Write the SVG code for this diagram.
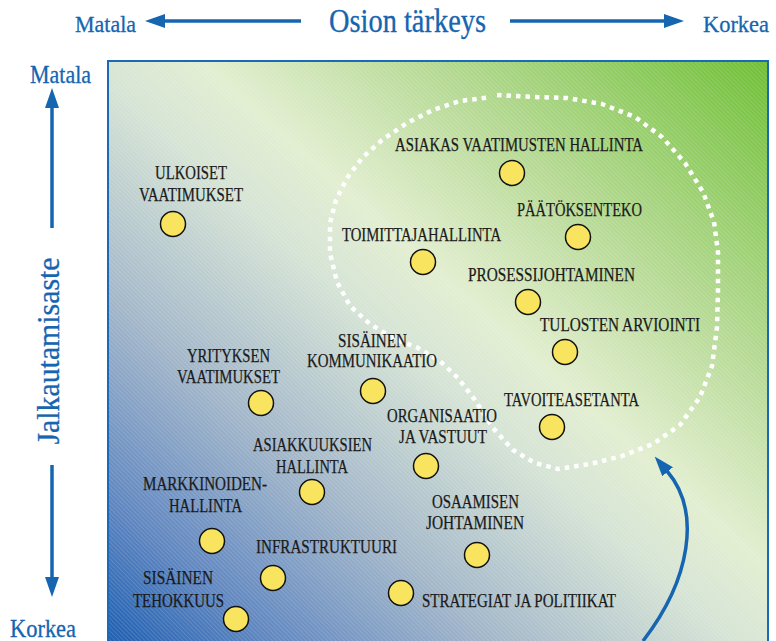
<svg xmlns="http://www.w3.org/2000/svg" width="776" height="641" viewBox="0 0 776 641">
  <defs>
    <linearGradient id="bg" x1="0" y1="1" x2="1" y2="0">
      <stop offset="0" stop-color="#1a5cb0"/>
      <stop offset="0.13" stop-color="#5f86c0"/>
      <stop offset="0.3" stop-color="#a2b6c9"/>
      <stop offset="0.48" stop-color="#d5e3d5"/>
      <stop offset="0.57" stop-color="#e2eed0"/>
      <stop offset="0.74" stop-color="#b5d993"/>
      <stop offset="1" stop-color="#6ebf34"/>
    </linearGradient>
    <pattern id="hatch" width="3" height="3" patternUnits="userSpaceOnUse" patternTransform="rotate(-45)">
      <line x1="0.5" y1="0" x2="0.5" y2="3" stroke="#ffffff" stroke-opacity="0.14" stroke-width="1"/>
    </pattern>
    <marker id="head" viewBox="0 0 20 14" markerWidth="20" markerHeight="14" refX="1" refY="7" orient="auto" markerUnits="userSpaceOnUse">
      <path d="M0,0 L20,7 L0,14 z" fill="#1565b0"/>
    </marker>
    <style>
      .axis { font-family: "Liberation Serif", "Times New Roman", serif; fill: #1565b0; stroke: #1565b0; stroke-width: 0.3; }
      .lbl { font-family: "Liberation Serif", "Times New Roman", serif; font-size: 19.5px; fill: #1a1a1a; stroke: #1a1a1a; stroke-width: 0.25; }
      .dot { fill: #f8e45e; stroke: #111111; stroke-width: 1.5; }
      .ax { stroke: #1565b0; stroke-width: 3.5; fill: none; marker-end: url(#head); }
    </style>
  </defs>

  <!-- panel -->
  <rect x="108" y="61" width="660" height="590" fill="url(#bg)"/>
  <rect x="108" y="61" width="660" height="590" fill="url(#hatch)"/>
  <rect x="108" y="61" width="660" height="590" fill="none" stroke="#1a6ab8" stroke-width="2"/>

  <!-- axes -->
  <g id="axes">
    <text class="axis" x="75" y="32" font-size="24" textLength="61" lengthAdjust="spacingAndGlyphs">Matala</text>
    <text class="axis" x="329" y="32" font-size="33" textLength="157" lengthAdjust="spacingAndGlyphs">Osion tärkeys</text>
    <text class="axis" x="703" y="32" font-size="24" textLength="66" lengthAdjust="spacingAndGlyphs">Korkea</text>
    <text class="axis" x="30" y="83" font-size="25" textLength="61" lengthAdjust="spacingAndGlyphs">Matala</text>
    <text class="axis" x="10" y="637" font-size="25" textLength="66" lengthAdjust="spacingAndGlyphs">Korkea</text>
    <text class="axis" transform="translate(59,351) rotate(-90)" x="0" y="0" font-size="32" text-anchor="middle" textLength="187" lengthAdjust="spacingAndGlyphs">Jalkautamisaste</text>
  </g>

  <!-- connectors -->
  <g id="connectors">
    <path class="ax" d="M301,21 L164,21"/>
    <path class="ax" d="M510,21 L665,21"/>
    <path class="ax" d="M52,228 L52,107"/>
    <path class="ax" d="M52,465 L52,578"/>
    <path class="ax" stroke-width="3" d="M643,641 C690,580 702,512 667,471"/>
    <path fill="none" stroke="#ffffff" stroke-width="4.5" stroke-dasharray="4.5 5" stroke-linejoin="round"
      d="M497,95 L533,97 L567,98 L602,104 L635,117 L662,137 L685,163 L703,192 L714,222 L718,252 L718,290 L717,327 L712,366 L700,397 L680,425 L653,444 L622,456 L590,464 L558,469 L535,463 L513,450 L493,428 L475,400 L458,378 L440,361 L418,348 L393,338 L370,324 L350,306 L337,282 L330,253 L330,223 L336,200 L347,178 L362,158 L382,140 L407,123 L433,110 L460,101 L484,98 L491,97"/>
  </g>

  <!-- nodes -->
  <g id="n-ulkoiset">
    <text class="lbl" x="155" y="179" textLength="72" lengthAdjust="spacingAndGlyphs">ULKOISET</text>
    <text class="lbl" x="139" y="201" textLength="104" lengthAdjust="spacingAndGlyphs">VAATIMUKSET</text>
    <circle class="dot" cx="173" cy="224" r="12.5"/>
  </g>
  <g id="n-asiakas">
    <text class="lbl" x="395" y="151" textLength="248" lengthAdjust="spacingAndGlyphs">ASIAKAS VAATIMUSTEN HALLINTA</text>
    <circle class="dot" cx="512" cy="173" r="12.5"/>
  </g>
  <g id="n-paatoksenteko">
    <text class="lbl" x="517" y="216" textLength="125" lengthAdjust="spacingAndGlyphs">PÄÄTÖKSENTEKO</text>
    <circle class="dot" cx="578" cy="237" r="12.5"/>
  </g>
  <g id="n-toimittaja">
    <text class="lbl" x="342" y="241" textLength="159" lengthAdjust="spacingAndGlyphs">TOIMITTAJAHALLINTA</text>
    <circle class="dot" cx="423" cy="262" r="12.5"/>
  </g>
  <g id="n-prosessi">
    <text class="lbl" x="468" y="281" textLength="167" lengthAdjust="spacingAndGlyphs">PROSESSIJOHTAMINEN</text>
    <circle class="dot" cx="528" cy="302" r="12.5"/>
  </g>
  <g id="n-tulosten">
    <text class="lbl" x="540" y="331" textLength="160" lengthAdjust="spacingAndGlyphs">TULOSTEN ARVIOINTI</text>
    <circle class="dot" cx="565" cy="352" r="12.5"/>
  </g>
  <g id="n-tavoite">
    <text class="lbl" x="504" y="406" textLength="135" lengthAdjust="spacingAndGlyphs">TAVOITEASETANTA</text>
    <circle class="dot" cx="552" cy="427" r="12.5"/>
  </g>
  <g id="n-kommunikaatio">
    <text class="lbl" x="338" y="347" textLength="69" lengthAdjust="spacingAndGlyphs">SISÄINEN</text>
    <text class="lbl" x="307" y="367" textLength="130" lengthAdjust="spacingAndGlyphs">KOMMUNIKAATIO</text>
    <circle class="dot" cx="373" cy="391" r="12.5"/>
  </g>
  <g id="n-yrityksen">
    <text class="lbl" x="187" y="362" textLength="83" lengthAdjust="spacingAndGlyphs">YRITYKSEN</text>
    <text class="lbl" x="177" y="383" textLength="103" lengthAdjust="spacingAndGlyphs">VAATIMUKSET</text>
    <circle class="dot" cx="261" cy="403" r="12.5"/>
  </g>
  <g id="n-organisaatio">
    <text class="lbl" x="387" y="422" textLength="110" lengthAdjust="spacingAndGlyphs">ORGANISAATIO</text>
    <text class="lbl" x="399" y="443" textLength="88" lengthAdjust="spacingAndGlyphs">JA VASTUUT</text>
    <circle class="dot" cx="426" cy="466" r="12.5"/>
  </g>
  <g id="n-asiakkuuksien">
    <text class="lbl" x="253" y="451" textLength="119" lengthAdjust="spacingAndGlyphs">ASIAKKUUKSIEN</text>
    <text class="lbl" x="276" y="473" textLength="72" lengthAdjust="spacingAndGlyphs">HALLINTA</text>
    <circle class="dot" cx="312" cy="492" r="12.5"/>
  </g>
  <g id="n-markkinoiden">
    <text class="lbl" x="143" y="490" textLength="124" lengthAdjust="spacingAndGlyphs">MARKKINOIDEN-</text>
    <text class="lbl" x="169" y="512" textLength="73" lengthAdjust="spacingAndGlyphs">HALLINTA</text>
    <circle class="dot" cx="212" cy="541" r="12.5"/>
  </g>
  <g id="n-osaamisen">
    <text class="lbl" x="432" y="508" textLength="87" lengthAdjust="spacingAndGlyphs">OSAAMISEN</text>
    <text class="lbl" x="426" y="529" textLength="98" lengthAdjust="spacingAndGlyphs">JOHTAMINEN</text>
    <circle class="dot" cx="477" cy="555" r="12.5"/>
  </g>
  <g id="n-infra">
    <text class="lbl" x="256" y="553" textLength="141" lengthAdjust="spacingAndGlyphs">INFRASTRUKTUURI</text>
    <circle class="dot" cx="273" cy="578" r="12.5"/>
  </g>
  <g id="n-tehokkuus">
    <text class="lbl" x="143" y="584" textLength="70" lengthAdjust="spacingAndGlyphs">SISÄINEN</text>
    <text class="lbl" x="133" y="607" textLength="91" lengthAdjust="spacingAndGlyphs">TEHOKKUUS</text>
    <circle class="dot" cx="236" cy="619" r="12.5"/>
  </g>
  <g id="n-strategiat">
    <text class="lbl" x="422" y="607" textLength="194" lengthAdjust="spacingAndGlyphs">STRATEGIAT JA POLITIIKAT</text>
    <circle class="dot" cx="401" cy="593" r="12.5"/>
  </g>
</svg>
